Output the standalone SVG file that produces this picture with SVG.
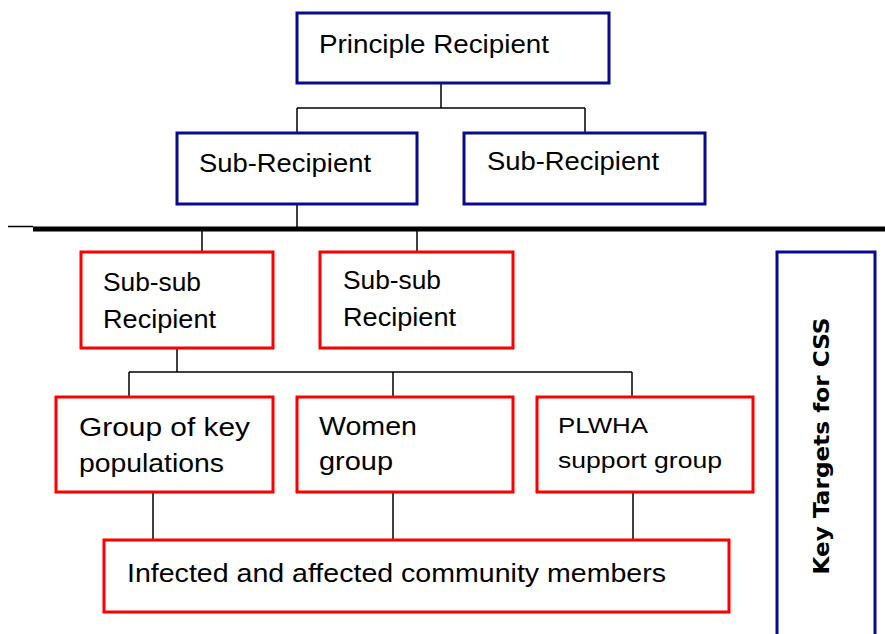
<svg xmlns="http://www.w3.org/2000/svg" width="885" height="634" viewBox="0 0 885 634">
<style>
.blue{fill:#fff;stroke:#0a0a8a;stroke-width:3}
.red{fill:#fff;stroke:#ff0000;stroke-width:3}
.t{font-family:"Liberation Sans",Arial,sans-serif;font-size:25px;fill:#000}
.s{font-size:22px}
.c{fill:none;stroke:#000;stroke-width:1.5}
</style>
<rect width="885" height="634" fill="#fff"/>
<g id="connectors">
<path class="c" d="M441 83V108M297 108H585M297 108V133M585 108V133"/>
<path class="c" d="M297 204V228"/>
<path d="M8 226.5H33" stroke="#000" stroke-width="1.5"/>
<path d="M33 229H885" stroke="#000" stroke-width="5"/>
<path class="c" d="M202 231V252M417 231V252"/>
<path class="c" d="M177 348V372M129 372H632M129 372V397M393 372V397M632 372V397"/>
<path class="c" d="M153 492V540M393 492V540M633 492V540"/>
</g>
<g id="pr"><rect class="blue" x="297" y="13" width="312" height="70"/><text class="t" x="319" y="53" textLength="230" lengthAdjust="spacingAndGlyphs">Principle Recipient</text></g>
<g id="sr1"><rect class="blue" x="177" y="133" width="240" height="71"/><text class="t" x="199" y="172" textLength="172" lengthAdjust="spacingAndGlyphs">Sub-Recipient</text></g>
<g id="sr2"><rect class="blue" x="464" y="133" width="241" height="71"/><text class="t" x="487" y="170" textLength="172" lengthAdjust="spacingAndGlyphs">Sub-Recipient</text></g>
<g id="ssr1"><rect class="red" x="81" y="252" width="192" height="96"/><text class="t" x="103" y="291" textLength="98" lengthAdjust="spacingAndGlyphs">Sub-sub</text><text class="t" x="103" y="328" textLength="113" lengthAdjust="spacingAndGlyphs">Recipient</text></g>
<g id="ssr2"><rect class="red" x="320" y="252" width="193" height="96"/><text class="t" x="343" y="289" textLength="98" lengthAdjust="spacingAndGlyphs">Sub-sub</text><text class="t" x="343" y="326" textLength="113" lengthAdjust="spacingAndGlyphs">Recipient</text></g>
<g id="gkp"><rect class="red" x="56" y="397" width="217" height="95"/><text class="t" x="79" y="436" textLength="171" lengthAdjust="spacingAndGlyphs">Group of key</text><text class="t" x="79" y="472" textLength="145" lengthAdjust="spacingAndGlyphs">populations</text></g>
<g id="wg"><rect class="red" x="297" y="397" width="216" height="95"/><text class="t" x="319" y="435" textLength="98" lengthAdjust="spacingAndGlyphs">Women</text><text class="t" x="319" y="470" textLength="74" lengthAdjust="spacingAndGlyphs">group</text></g>
<g id="plwha"><rect class="red" x="537" y="397" width="216" height="95"/><text class="t s" x="558" y="433" textLength="90" lengthAdjust="spacingAndGlyphs">PLWHA</text><text class="t s" x="558" y="468" textLength="164" lengthAdjust="spacingAndGlyphs">support group</text></g>
<g id="icm"><rect class="red" x="104" y="540" width="625" height="72"/><text class="t" x="127" y="582" textLength="539" lengthAdjust="spacingAndGlyphs">Infected and affected community members</text></g>
<g id="kt"><rect class="blue" x="777" y="252" width="98" height="400"/><text x="0" y="0" transform="translate(829 446) rotate(-90)" text-anchor="middle" font-family="DejaVu Sans,Verdana,sans-serif" font-weight="bold" font-size="22" textLength="257" lengthAdjust="spacingAndGlyphs">Key Targets for CSS</text></g>
</svg>
